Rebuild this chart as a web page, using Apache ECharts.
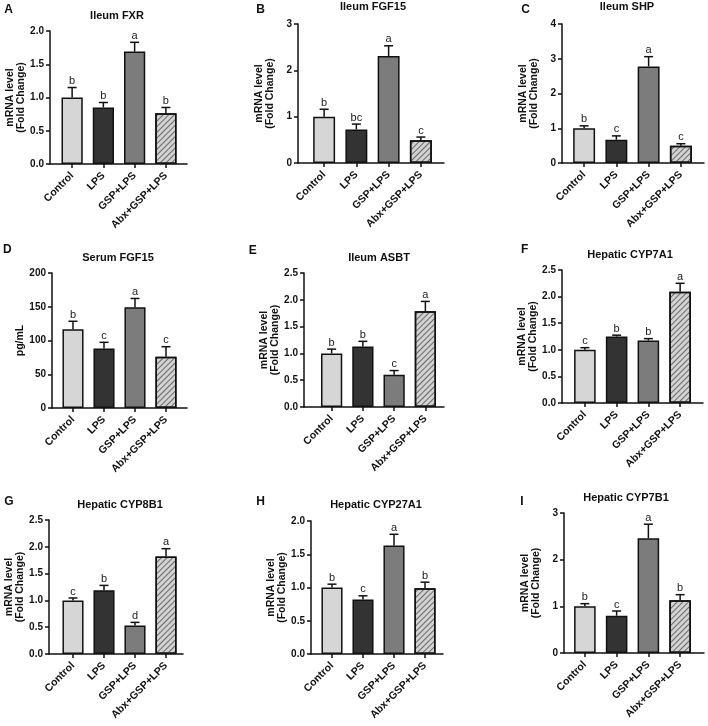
<!DOCTYPE html>
<html>
<head>
<meta charset="utf-8">
<script src="https://cdn.jsdelivr.net/npm/echarts@6/dist/echarts.min.js"></script>
<style>
html,body{margin:0;padding:0;background:#fff;}
#chart{width:708px;height:726px;}
</style>
</head>
<body>
<div id="chart"></div>
<script>
// ---------------- DATA ----------------
const categories = ['Control', 'LPS', 'GSP+LPS', 'Abx+GSP+LPS'];

const ileumFXRMean = [1.00, 0.85, 1.69, 0.765];
const ileumFXRErr  = [0.15, 0.075, 0.14, 0.085];
const ileumFXRSig  = ['b', 'b', 'a', 'b'];

const ileumFGF15Mean = [1.00, 0.725, 2.31, 0.49];
const ileumFGF15Err  = [0.16, 0.115, 0.22, 0.07];
const ileumFGF15Sig  = ['b', 'bc', 'a', 'c'];

const ileumSHPMean = [1.00, 0.67, 2.78, 0.50];
const ileumSHPErr  = [0.07, 0.11, 0.28, 0.055];
const ileumSHPSig  = ['b', 'c', 'a', 'c'];

const serumFGF15Mean = [116.6, 88.3, 149.4, 75.9];
const serumFGF15Err  = [11.9, 9.0, 12.9, 14.9];
const serumFGF15Sig  = ['b', 'c', 'a', 'c'];

const ileumASBTMean = [1.00, 1.13, 0.60, 1.785];
const ileumASBTErr  = [0.08, 0.095, 0.08, 0.185];
const ileumASBTSig  = ['b', 'b', 'c', 'a'];

const cyp7a1Mean = [1.00, 1.25, 1.175, 2.09];
const cyp7a1Err  = [0.04, 0.025, 0.035, 0.16];
const cyp7a1Sig  = ['c', 'b', 'b', 'a'];

const cyp8b1Mean = [1.00, 1.19, 0.53, 1.82];
const cyp8b1Err  = [0.045, 0.09, 0.06, 0.145];
const cyp8b1Sig  = ['c', 'b', 'd', 'a'];

const cyp27a1Mean = [1.00, 0.82, 1.63, 0.99];
const cyp27a1Err  = [0.05, 0.055, 0.17, 0.09];
const cyp27a1Sig  = ['b', 'c', 'a', 'b'];

const cyp7b1Mean = [1.00, 0.80, 2.46, 1.13];
const cyp7b1Err  = [0.057, 0.10, 0.30, 0.12];
const cyp7b1Sig  = ['b', 'c', 'a', 'b'];

// y axis ranges / tick steps
const yMaxes = [2, 3, 4, 200, 2.5, 2.5, 2.5, 2, 3];
const ySteps = [0.5, 1, 1, 50, 0.5, 0.5, 0.5, 0.5, 1];
const yDecimals = [1, 0, 0, 0, 1, 1, 1, 1, 0];

const panelLetters = ['A', 'B', 'C', 'D', 'E', 'F', 'G', 'H', 'I'];
const panelTitles = ['Ileum FXR', 'Ileum FGF15', 'Ileum SHP', 'Serum FGF15', 'Ileum ASBT',
  'Hepatic CYP7A1', 'Hepatic CYP8B1', 'Hepatic CYP27A1', 'Hepatic CYP7B1'];
const yNames = ['mRNA level\n(Fold Change)', 'mRNA level\n(Fold Change)', 'mRNA level\n(Fold Change)',
  'pg/mL', 'mRNA level\n(Fold Change)', 'mRNA level\n(Fold Change)',
  'mRNA level\n(Fold Change)', 'mRNA level\n(Fold Change)', 'mRNA level\n(Fold Change)'];

const panelData = [
  [ileumFXRMean, ileumFXRErr, ileumFXRSig],
  [ileumFGF15Mean, ileumFGF15Err, ileumFGF15Sig],
  [ileumSHPMean, ileumSHPErr, ileumSHPSig],
  [serumFGF15Mean, serumFGF15Err, serumFGF15Sig],
  [ileumASBTMean, ileumASBTErr, ileumASBTSig],
  [cyp7a1Mean, cyp7a1Err, cyp7a1Sig],
  [cyp8b1Mean, cyp8b1Err, cyp8b1Sig],
  [cyp27a1Mean, cyp27a1Err, cyp27a1Sig],
  [cyp7b1Mean, cyp7b1Err, cyp7b1Sig]
];

// ---------------- LAYOUT (pixels) ----------------
const layout = [
  {yx: 50,  end: 187, cl: 56.5, cw: 125, top: 31,  bot: 164, tx: 117, ty: 16,  lx: 8.5, ly: 9.5, gap: 19},
  {yx: 298, end: 444, cl: 308,  cw: 129, top: 24,  bot: 163, tx: 373, ty: 7,   lx: 260.5, ly: 9.7, gap: 22},
  {yx: 562, end: 704, cl: 568,  cw: 129, top: 24,  bot: 163, tx: 627, ty: 7,   lx: 525.5, ly: 9.5, gap: 22},
  {yx: 52,  end: 187, cl: 57.5, cw: 124, top: 273, bot: 408, tx: 118, ty: 258, lx: 7.3, ly: 250, gap: 25},
  {yx: 304, end: 444, cl: 316,  cw: 125, top: 273, bot: 407, tx: 379, ty: 258, lx: 252.7, ly: 251, gap: 19},
  {yx: 562, end: 703, cl: 569,  cw: 127, top: 270, bot: 403, tx: 630, ty: 255, lx: 524.7, ly: 250, gap: 19},
  {yx: 49,  end: 183, cl: 57.5, cw: 124, top: 520, bot: 654, tx: 120, ty: 505, lx: 8.8, ly: 501.7, gap: 19},
  {yx: 311, end: 443, cl: 316.5, cw: 124, top: 521, bot: 654, tx: 376, ty: 505, lx: 260.7, ly: 501.7, gap: 19},
  {yx: 564, end: 704, cl: 569,  cw: 127, top: 513, bot: 653, tx: 626, ty: 498, lx: 522, ly: 502, gap: 22}
];

const FONT = 'Liberation Sans, Arial, Helvetica, sans-serif';
const barStyles = [
  {color: '#d6d6d6', borderColor: '#111', borderWidth: 1.5},
  {color: '#333333', borderColor: '#111', borderWidth: 1.5},
  {color: '#7c7c7c', borderColor: '#111', borderWidth: 1.5},
  {color: '#d2d2d2', borderColor: '#111', borderWidth: 1.5,
    decal: {symbol: 'rect', symbolSize: 1, dashArrayX: [1, 0], dashArrayY: [1, 2.2],
      rotation: -Math.PI / 4, color: 'rgba(60,60,60,0.7)'}}
];

const grids = [], xAxes = [], yAxes = [], series = [], graphics = [];

layout.forEach((L, i) => {
  const [mean, err, sig] = panelData[i];
  const h = L.bot - L.top;
  grids.push({left: L.yx, top: L.top, width: L.end - L.yx, height: h, containLabel: false});
  grids.push({left: L.cl, top: L.top, width: L.cw, height: h, containLabel: false});
  const g0 = 2 * i, g1 = 2 * i + 1;
  xAxes.push({gridIndex: g0, type: 'value', min: 0, max: 1, show: true,
    axisLine: {show: true, lineStyle: {color: '#111', width: 1.5}},
    axisTick: {show: false}, axisLabel: {show: false}, splitLine: {show: false}});
  xAxes.push({gridIndex: g1, type: 'category', data: categories,
    axisLine: {show: false},
    axisTick: {show: true, alignWithLabel: true, length: 4, lineStyle: {color: '#111', width: 1.5}},
    axisLabel: {rotate: 45, fontSize: 10.5, fontWeight: 'bold', fontFamily: FONT, color: '#111', margin: 10, interval: 0},
    splitLine: {show: false}});
  yAxes.push({gridIndex: g0, type: 'value', min: 0, max: yMaxes[i], interval: ySteps[i],
    axisLine: {show: true, lineStyle: {color: '#111', width: 1.5}},
    axisTick: {show: true, length: 4, lineStyle: {color: '#111', width: 1.5}},
    axisLabel: {fontSize: 10, fontWeight: 'bold', fontFamily: FONT, color: '#111', margin: 6,
      formatter: v => v.toFixed(yDecimals[i])},
    splitLine: {show: false},
    name: yNames[i], nameLocation: 'middle', nameGap: L.gap,
    nameTextStyle: {fontSize: 10.5, fontWeight: 'bold', fontFamily: FONT, color: '#111', lineHeight: 11}});
  yAxes.push({gridIndex: g1, type: 'value', min: 0, max: yMaxes[i], show: false, splitLine: {show: false}});

  series.push({type: 'bar', xAxisIndex: g1, yAxisIndex: g1, barCategoryGap: '32%',
    data: mean.map((v, k) => ({value: v, itemStyle: barStyles[k]})),
    silent: true, animation: false, z: 2});
  series.push({type: 'custom', xAxisIndex: g1, yAxisIndex: g1, z: 3, silent: true, animation: false,
    data: mean.map((v, k) => [k, v, v + err[k]]),
    renderItem: (params, api) => {
      const k = api.value(0);
      const p0 = api.coord([k, api.value(1)]);
      const p1 = api.coord([k, api.value(2)]);
      const hw = 4.5;
      return {type: 'group', children: [
        {type: 'line', shape: {x1: p0[0], y1: p0[1], x2: p1[0], y2: p1[1]}, style: {stroke: '#111', lineWidth: 1.5}},
        {type: 'line', shape: {x1: p1[0] - hw, y1: p1[1], x2: p1[0] + hw, y2: p1[1]}, style: {stroke: '#111', lineWidth: 1.5}},
        {type: 'text', x: p1[0], y: p1[1] - 1, style: {text: sig[params.dataIndex], fill: '#222',
          font: '11px ' + FONT, align: 'center', verticalAlign: 'bottom'}}
      ]};
    }});

  graphics.push({type: 'text', x: L.tx, y: L.ty, silent: true,
    style: {text: panelTitles[i], fill: '#111', font: 'bold 11px ' + FONT, align: 'center', verticalAlign: 'middle'}});
  graphics.push({type: 'text', x: L.lx, y: L.ly, silent: true,
    style: {text: panelLetters[i], fill: '#111', font: 'bold 12px ' + FONT, align: 'center', verticalAlign: 'middle'}});
});

const chart = echarts.init(document.getElementById('chart'), null, {renderer: 'canvas'});
chart.setOption({
  backgroundColor: '#ffffff',
  animation: false,
  grid: grids,
  xAxis: xAxes,
  yAxis: yAxes,
  series: series,
  graphic: graphics
});
</script>
</body>
</html>
